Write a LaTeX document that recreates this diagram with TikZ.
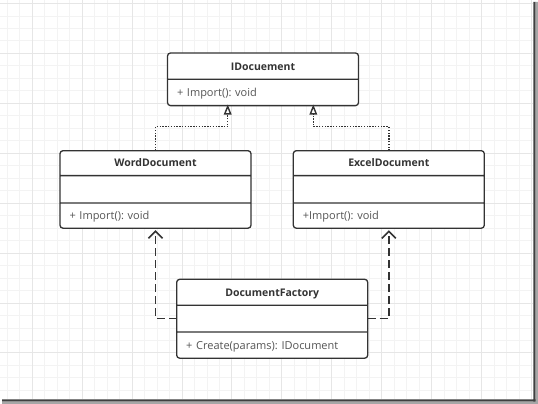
\documentclass[tikz,border=0pt]{standalone}
\usepackage{fontspec}
\setmainfont{Open Sans}
\usetikzlibrary{shapes.multipart,arrows.meta,calc}
\definecolor{umlline}{HTML}{333333}
\definecolor{umltext}{HTML}{555555}
\definecolor{gridminor}{HTML}{F3F3F3}
\definecolor{gridmajor}{HTML}{E6E6E6}
\frenchspacing
\newcommand{\umlpart}[1]{\rule[-8.5pt]{0pt}{#1}}
\newcommand{\umltitle}[2]{{\centering\color{umlline}\fontsize{10.5}{12}\selectfont\bfseries #1\umlpart{#2}\par}}
\begin{document}
\begin{tikzpicture}[x=1pt,y=-1pt,
        umlclass/.style={rectangle split,rectangle split parts=#1,draw=umlline,line width=1.3pt,
            rounded corners=3pt,text width=172pt,inner xsep=9.5pt,inner ysep=0pt,outer sep=0pt,
            anchor=north,fill=white,text=umltext,font=\fontsize{11}{12}\selectfont},
        realize/.style={draw=umlline,line width=1.4pt,dash pattern=on 1.4pt off 1.4pt,
            -{Triangle[open,length=10pt,width=7.5pt]},shorten >=1.5pt},
        depend/.style={draw=umlline,line width=1.6pt,dash pattern=on 8pt off 4pt,
            -{Straight Barb[length=7pt,width=14pt]},shorten >=2pt}]
    \useasboundingbox (0,0) rectangle (538,404);
    \fill[white] (0,0) rectangle (533.3,399.3);
    \foreach \i in {0,...,42}
        \draw[gridminor,line width=0.9pt] (7.3+12.48*\i,0) -- (7.3+12.48*\i,399.3);
    \foreach \j in {0,...,31}
        \draw[gridminor,line width=0.9pt] (0,3.5+12.48*\j) -- (533.3,3.5+12.48*\j);
    \foreach \i in {2,6,...,42}
        \draw[gridmajor,line width=0.9pt] (7.3+12.48*\i,0) -- (7.3+12.48*\i,399.3);
    \foreach \j in {0,4,...,28}
        \draw[gridmajor,line width=0.9pt] (0,3.5+12.48*\j) -- (533.3,3.5+12.48*\j);
    \fill[black!75] (2,399.3) rectangle (538,401.6) (533.3,2) rectangle (535.6,404);
    \fill[black!35] (2,401.6) rectangle (538,404) (535.6,2) rectangle (538,404);

    \node[umlclass=2] (idoc) at (263,53)
        {\umltitle{IDocuement}{25pt}\nodepart{two}+ Import(): void\umlpart{25pt}};
    \node[umlclass=3] (word) at (155.5,150.7)
        {\umltitle{WordDocument}{23.6pt}\nodepart{two}\umlpart{26pt}\nodepart{three}+ Import(): void\umlpart{24pt}};
    \node[umlclass=3] (excel) at (388.8,150.7)
        {\umltitle{ExcelDocument}{23.6pt}\nodepart{two}\umlpart{26pt}\nodepart{three}+Import(): void\umlpart{24pt}};
    \node[umlclass=3] (factory) at (272.2,279.3)
        {\umltitle{DocumentFactory}{24.7pt}\nodepart{two}\umlpart{25.3pt}\nodepart{three}+ Create(params): IDocument\umlpart{25pt}};

    \coordinate (wordin) at (227.7,103);
    \coordinate (excelin) at (313.3,103);
    \draw[realize] (word.north) -- ++(0,-24) -| (wordin);
    \draw[realize] (excel.north) -- ++(0,-24) -| (excelin);
    \draw[depend] ($(factory.text split west)!.5!(factory.two split west)$) -| (word.south);
    \draw[depend] ($(factory.text split east)!.5!(factory.two split east)$) -| (excel.south);
\end{tikzpicture}
\end{document}
